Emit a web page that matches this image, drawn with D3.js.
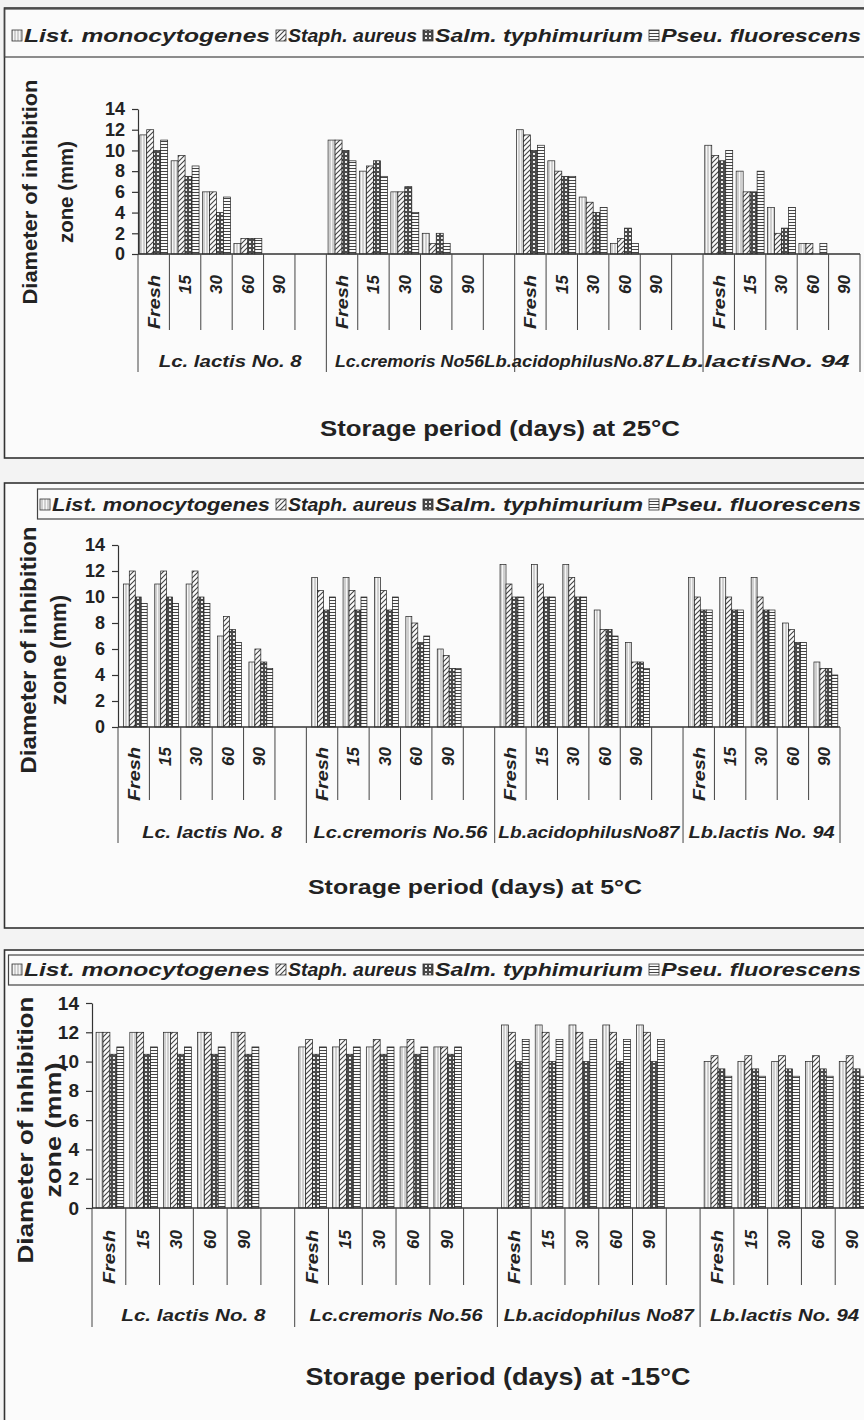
<!DOCTYPE html>
<html>
<head>
<meta charset="utf-8">
<script src="https://cdn.jsdelivr.net/npm/d3@7"></script>
<style>
  body { margin: 0; background: #f3f3f3; }
  svg { display: block; font-family: "Liberation Sans", Arial, sans-serif; }
</style>
</head>
<body>
<svg id="fig" width="864" height="1420"></svg>
<script>
// données (mm)
var days = ["Fresh", "15", "30", "60", "90"];
var bacteria = ["List. monocytogenes", "Staph. aureus", "Salm. typhimurium", "Pseu. fluorescens"];
var yTicks = [0, 2, 4, 6, 8, 10, 12, 14];

var strains25 = ["Lc. lactis No. 8", "Lc.cremoris No56", "Lb.acidophilusNo.87", "Lb.lactisNo. 94"];
var strains5 = ["Lc. lactis No. 8", "Lc.cremoris No.56", "Lb.acidophilusNo87", "Lb.lactis No. 94"];
var strainsM15 = ["Lc. lactis No. 8", "Lc.cremoris No.56", "Lb.acidophilus No87", "Lb.lactis No. 94"];

// [souche][jour][bactérie]
var values25 = [
  [[11.5, 12, 10, 11], [9, 9.5, 7.5, 8.5], [6, 6, 4, 5.5], [1, 1.5, 1.5, 1.5], [0, 0, 0, 0]],
  [[11, 11, 10, 9], [8, 8.5, 9, 7.5], [6, 6, 6.5, 4], [2, 1, 2, 1], [0, 0, 0, 0]],
  [[12, 11.5, 10, 10.5], [9, 8, 7.5, 7.5], [5.5, 5, 4, 4.5], [1, 1.5, 2.5, 1], [0, 0, 0, 0]],
  [[10.5, 9.5, 9, 10], [8, 6, 6, 8], [4.5, 2, 2.5, 4.5], [1, 1, 0, 1], [0, 0, 0, 0]]
];
var values5 = [
  [[11, 12, 10, 9.5], [11, 12, 10, 9.5], [11, 12, 10, 9.5], [7, 8.5, 7.5, 6.5], [5, 6, 5, 4.5]],
  [[11.5, 10.5, 9, 10], [11.5, 10.5, 9, 10], [11.5, 10.5, 9, 10], [8.5, 8, 6.5, 7], [6, 5.5, 4.5, 4.5]],
  [[12.5, 11, 10, 10], [12.5, 11, 10, 10], [12.5, 11.5, 10, 10], [9, 7.5, 7.5, 7], [6.5, 5, 5, 4.5]],
  [[11.5, 10, 9, 9], [11.5, 10, 9, 9], [11.5, 10, 9, 9], [8, 7.5, 6.5, 6.5], [5, 4.5, 4.5, 4]]
];
var valuesM15 = [
  [[12, 12, 10.5, 11], [12, 12, 10.5, 11], [12, 12, 10.5, 11], [12, 12, 10.5, 11], [12, 12, 10.5, 11]],
  [[11, 11.5, 10.5, 11], [11, 11.5, 10.5, 11], [11, 11.5, 10.5, 11], [11, 11.5, 10.5, 11], [11, 11, 10.5, 11]],
  [[12.5, 12, 10, 11.5], [12.5, 12, 10, 11.5], [12.5, 12, 10, 11.5], [12.5, 12, 10, 11.5], [12.5, 12, 10, 11.5]],
  [[10, 10.4, 9.5, 9], [10, 10.4, 9.5, 9], [10, 10.4, 9.5, 9], [10, 10.4, 9.5, 9], [10, 10.4, 9.5, 9]]
];

// mise en page de chaque panneau
var panels = [
  {title: "Storage period (days) at 25°C", strains: strains25, values: values25,
   top: 8, bottom: 458, leg: {x: 4, y: 9, h: 48, ty: 36, start: 12, firstW: 246},
   x0: 138, x1: 860, yBase: 254, yTop: 109, inner: [0.055, 0.945],
   slotDepth: 76, groupDepth: 118, labelTop: 21, groupY: 361,
   groupW: [143, 149, 179, 184], groupDx: [-2, -11, -35, -24],
   yLab: {x1: 30, x2: 66, cy: 192, w1: 225, w2: 102, fs: 20}, tickFs: 18,
   titleY: 428, titleCx: 500, titleW: 360, titleFs: 22},
  {title: "Storage period (days) at 5°C", strains: strains5, values: values5,
   top: 483, bottom: 928, leg: {x: 37, y: 489, h: 30, ty: 505, start: 40, firstW: 218},
   x0: 118, x1: 840, yBase: 727, yTop: 545, inner: [0.17, 0.93],
   slotDepth: 73, groupDepth: 116, labelTop: 20, groupY: 832,
   groupW: [140, 174, 181, 146], groupDx: [0, 0, 0, 0],
   yLab: {x1: 28, x2: 58, cy: 650, w1: 247, w2: 110, fs: 22}, tickFs: 18,
   titleY: 887, titleCx: 475, titleW: 334, titleFs: 21},
  {title: "Storage period (days) at -15°C", strains: strainsM15, values: valuesM15,
   top: 950, bottom: 1440, leg: {x: 8, y: 955, h: 30, ty: 970, start: 12, firstW: 246},
   x0: 92, x1: 869, yBase: 1208, yTop: 1003, inner: [0.12, 0.94],
   slotDepth: 77, groupDepth: 119, labelTop: 22, groupY: 1315,
   groupW: [144, 173, 190, 149], groupDx: [0, 0, 0, 0],
   yLab: {x1: 25, x2: 53, cy: 1130, w1: 267, w2: 135, fs: 22}, tickFs: 19,
   titleY: 1377, titleCx: 498, titleW: 385, titleFs: 24}
];

var svg = d3.select("#fig");
var defs = svg.append("defs");

function pat(id, w, h, draw) {
  var p = defs.append("pattern").attr("id", id)
    .attr("patternUnits", "userSpaceOnUse").attr("width", w).attr("height", h);
  draw(p);
}
pat("p0", 3, 4, function (p) {
  p.append("rect").attr("width", 3).attr("height", 4).attr("fill", "#cfcfcf");
  p.append("rect").attr("x", 1).attr("width", 1).attr("height", 4).attr("fill", "#f6f6f6");
});
pat("p1", 5, 5, function (p) {
  p.append("rect").attr("width", 5).attr("height", 5).attr("fill", "#fafafa");
  p.append("path").attr("d", "M0,5L5,0M-1,1L1,-1M4,6L6,4")
    .attr("stroke", "#444").attr("stroke-width", 1.1);
});
pat("p2", 4, 4, function (p) {
  p.append("rect").attr("width", 4).attr("height", 4).attr("fill", "#4a4a4a");
  p.append("rect").attr("x", 1).attr("y", 1).attr("width", 2).attr("height", 2).attr("fill", "#eeeeee");
});
pat("p3", 4, 3, function (p) {
  p.append("rect").attr("width", 4).attr("height", 3).attr("fill", "#fafafa");
  p.append("rect").attr("width", 4).attr("height", 1).attr("fill", "#444");
});
var fills = ["url(#p0)", "url(#p1)", "url(#p2)", "url(#p3)"];
var legendW = [null, 129, 208, 200];

function dessine_panneau(P) {
  var g = svg.append("g");

  // cadre du panneau
  g.append("rect").attr("x", 4.5).attr("y", P.top).attr("width", 900)
    .attr("height", P.bottom - P.top).attr("fill", "#fbfbfb")
    .attr("stroke", "#333").attr("stroke-width", 1.6);

  // légende
  g.append("rect").attr("x", P.leg.x + 0.5).attr("y", P.leg.y).attr("width", 900)
    .attr("height", P.leg.h).attr("fill", "none").attr("stroke", "#444").attr("stroke-width", 1.2);
  var lx = P.leg.start;
  bacteria.forEach(function (b, i) {
    var w = i == 0 ? P.leg.firstW : legendW[i];
    g.append("rect").attr("x", lx).attr("y", P.leg.ty - 6).attr("width", 10).attr("height", 11)
      .attr("fill", fills[i]).attr("stroke", "#333").attr("stroke-width", 0.8);
    g.append("text").attr("x", lx + 12).attr("y", P.leg.ty).attr("dy", "0.35em")
      .attr("font-size", 18).attr("font-weight", "bold").attr("font-style", "italic")
      .attr("fill", "#222").attr("textLength", w).attr("lengthAdjust", "spacingAndGlyphs")
      .text(b);
    lx += 12 + w + 6;
  });

  // catégories : 5 jours par souche + une case vide entre souches
  var keys = [];
  P.strains.forEach(function (s, gi) {
    days.forEach(function (d, di) { keys.push(gi + "-" + di); });
    if (gi < P.strains.length - 1) keys.push(gi + "-b");
  });
  var x = d3.scaleBand().domain(keys).range([P.x0, P.x1]).padding(0);
  var bw = x.bandwidth();
  var xi = d3.scaleBand().domain(bacteria).range([bw * P.inner[0], bw * P.inner[1]]).padding(0);
  var y = d3.scaleLinear().domain([0, 14]).range([P.yBase, P.yTop]);

  // barres
  P.values.forEach(function (strainVals, gi) {
    strainVals.forEach(function (dayVals, di) {
      g.selectAll(null).data(dayVals.map(function (v, bi) { return {v: v, b: bacteria[bi], i: bi}; })
        .filter(function (d) { return d.v > 0; }))
        .enter().append("rect")
        .attr("x", function (d) { return x(gi + "-" + di) + xi(d.b); })
        .attr("y", function (d) { return y(d.v); })
        .attr("width", xi.bandwidth())
        .attr("height", function (d) { return y(0) - y(d.v); })
        .attr("fill", function (d) { return fills[d.i]; })
        .attr("stroke", "#222").attr("stroke-width", 0.7);
    });
  });

  // axe y
  var ax = g.append("g").attr("transform", "translate(" + P.x0 + ",0)")
    .call(d3.axisLeft(y).tickValues(yTicks).tickSize(6).tickSizeOuter(0).tickPadding(7));
  ax.select(".domain").attr("stroke", "#333").attr("stroke-width", 1.2);
  ax.selectAll(".tick line").attr("stroke", "#333").attr("stroke-width", 1.2);
  ax.selectAll(".tick text").attr("font-size", P.tickFs).attr("font-weight", "bold")
    .attr("font-family", "Liberation Sans, Arial, sans-serif").attr("fill", "#222");

  // axe x : ligne de base et séparateurs
  g.append("line").attr("x1", P.x0).attr("x2", P.x1).attr("y1", y(0)).attr("y2", y(0))
    .attr("stroke", "#333").attr("stroke-width", 1.4);
  var bounds = keys.map(function (k, i) { return {x: x(k), grp: i == 0 || /-0$/.test(k)}; });
  bounds.push({x: P.x1, grp: true});
  g.selectAll(null).data(bounds).enter().append("line")
    .attr("x1", function (d) { return d.x; }).attr("x2", function (d) { return d.x; })
    .attr("y1", y(0))
    .attr("y2", function (d) { return y(0) + (d.grp ? P.groupDepth : P.slotDepth); })
    .attr("stroke", "#444").attr("stroke-width", 1);

  // étiquettes des jours
  keys.forEach(function (k) {
    var parts = k.split("-");
    if (parts[1] == "b") return;
    var label = days[+parts[1]];
    var t = g.append("text")
      .attr("transform", "translate(" + (x(k) + bw / 2) + "," + (y(0) + P.labelTop) + ") rotate(-90)")
      .attr("text-anchor", "end").attr("dy", "0.35em")
      .attr("font-size", 17).attr("font-weight", "bold").attr("font-style", "italic")
      .attr("fill", "#222").text(label);
    if (label == "Fresh") t.attr("textLength", 54).attr("lengthAdjust", "spacingAndGlyphs");
  });

  // étiquettes des souches
  P.strains.forEach(function (s, gi) {
    var a = x(gi + "-0");
    var b = gi < P.strains.length - 1 ? x(gi + "-b") + bw : P.x1;
    g.append("text").attr("x", (a + b) / 2 + P.groupDx[gi]).attr("y", P.groupY).attr("dy", "0.35em")
      .attr("text-anchor", "middle").attr("font-size", 17).attr("font-weight", "bold")
      .attr("font-style", "italic").attr("fill", "#222")
      .attr("textLength", P.groupW[gi]).attr("lengthAdjust", "spacingAndGlyphs").text(s);
  });

  // titre de l'axe y (deux lignes)
  [["Diameter of inhibition", P.yLab.x1, P.yLab.w1], ["zone (mm)", P.yLab.x2, P.yLab.w2]].forEach(function (l) {
    g.append("text")
      .attr("transform", "translate(" + l[1] + "," + P.yLab.cy + ") rotate(-90)")
      .attr("text-anchor", "middle").attr("dy", "0.35em")
      .attr("font-size", P.yLab.fs).attr("font-weight", "bold").attr("fill", "#222")
      .attr("textLength", l[2]).attr("lengthAdjust", "spacingAndGlyphs").text(l[0]);
  });

  // titre de l'axe x
  g.append("text").attr("x", P.titleCx).attr("y", P.titleY).attr("dy", "0.35em")
    .attr("text-anchor", "middle").attr("font-size", P.titleFs).attr("font-weight", "bold")
    .attr("fill", "#222").attr("textLength", P.titleW).attr("lengthAdjust", "spacingAndGlyphs")
    .text(P.title);
}

panels.forEach(dessine_panneau);
</script>
</body>
</html>
